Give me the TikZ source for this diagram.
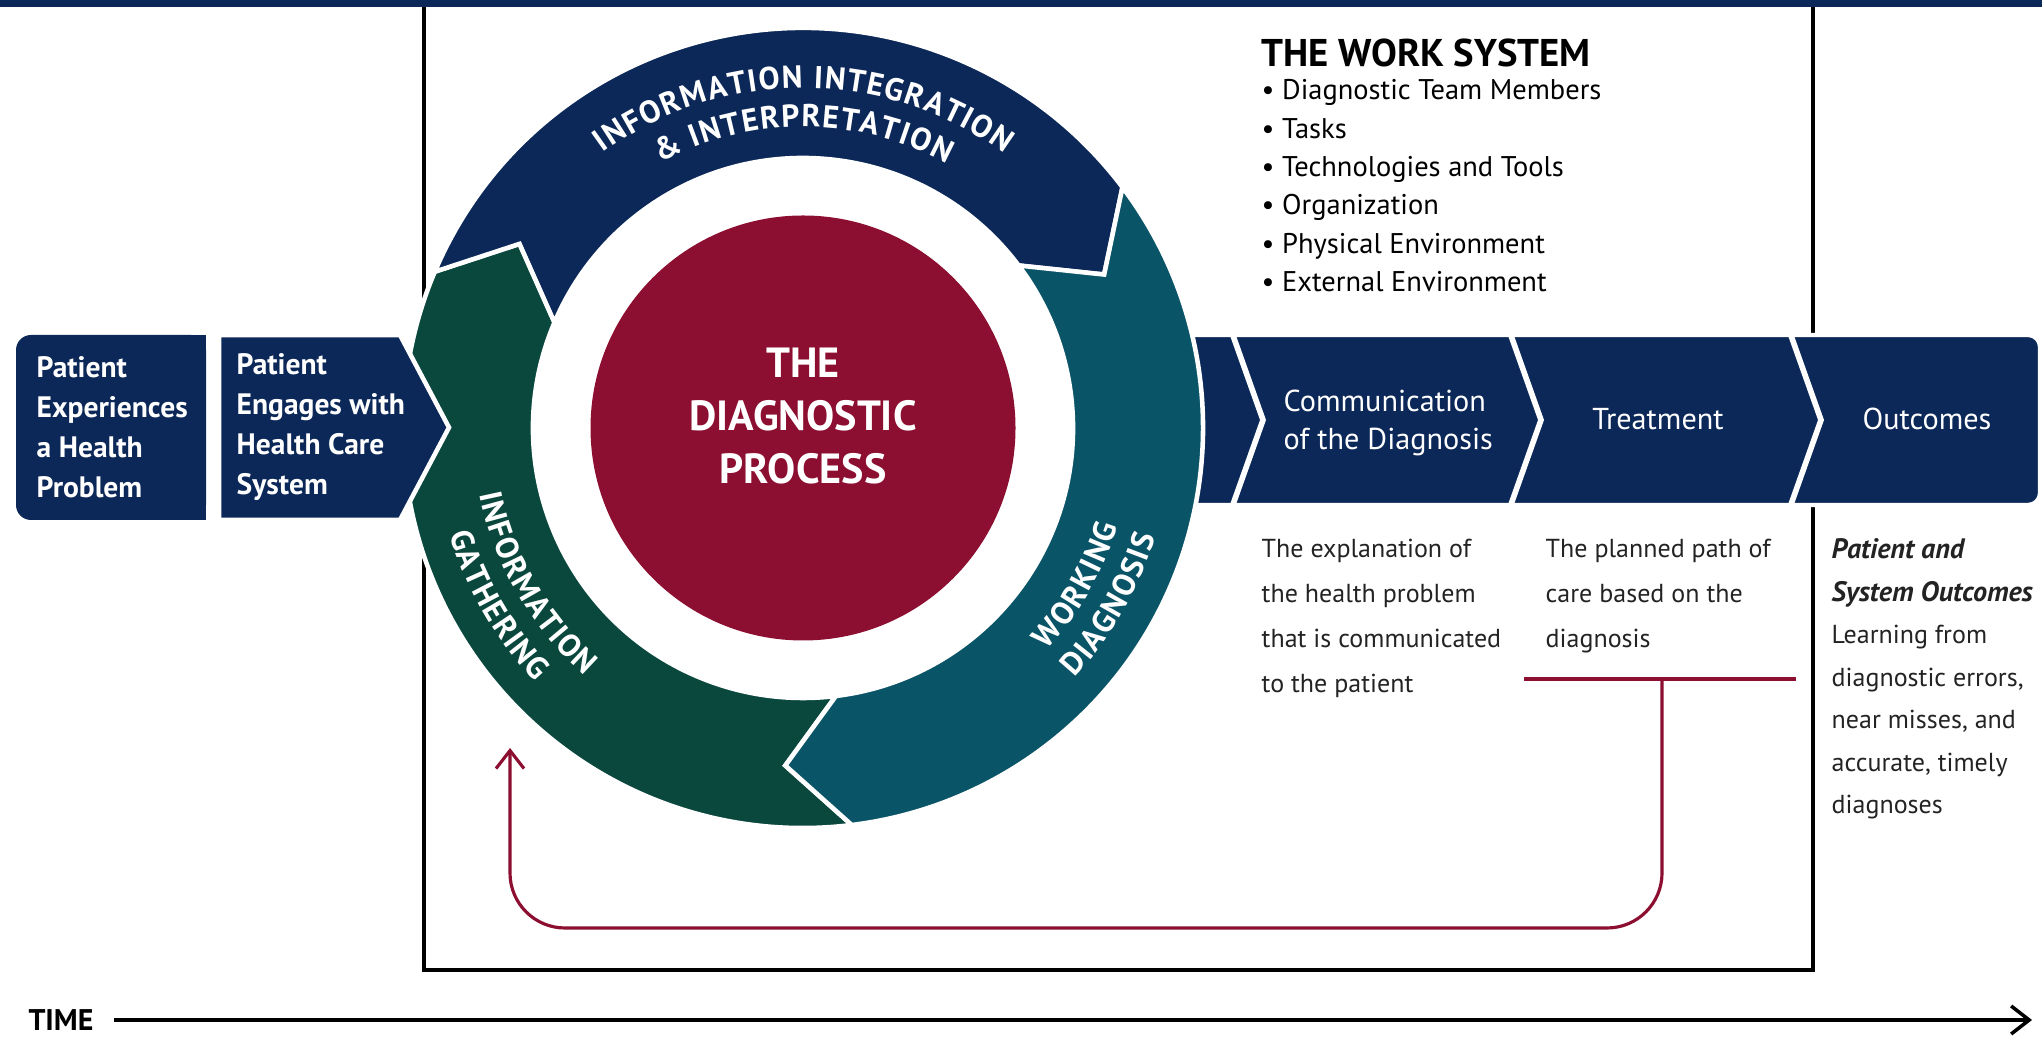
\documentclass[tikz,border=0pt]{standalone}
\usepackage{fontspec}
\setmainfont{PT Sans}
\usepackage{xcolor}
\usepackage{tikz}
\usetikzlibrary{positioning, arrows.meta, decorations.text}

\definecolor{navy}{RGB}{12,40,88}
\definecolor{pine}{RGB}{10,72,62}
\definecolor{petrol}{RGB}{10,84,104}
\definecolor{crimson}{RGB}{140,14,48}
\definecolor{ink}{RGB}{35,35,35}

\newcommand{\ringfont}{\fontsize{9}{9}\selectfont\bfseries\color{white}\kern0.4pt}
% one curved arrow of the cycle, clockwise from #2 to #3
\newcommand{\arcarrow}[3]{%
  \filldraw[#1, ring] (#2:4.0) arc[start angle=#2, end angle=#3, radius=4.0]
    -- ({#3-10}:3.38) -- (#3:2.70) arc[start angle=#3, end angle=#2, radius=2.70]
    -- ({#2-10}:3.38) -- cycle;}

\begin{document}
\begin{tikzpicture}[
    boxtext/.style={text=white, font=\bfseries\fontsize{8.4}{11.4}\selectfont, align=left, inner sep=0pt},
    stage/.style={text=white, font=\fontsize{8.6}{10.8}\selectfont, align=left, inner sep=0pt},
    note/.style={text=ink, font=\fontsize{7.4}{12.8}\selectfont, align=left, inner sep=0pt, anchor=north west},
    ring/.style={draw=white, line width=1.3pt},
    feedback/.style={crimson, line width=0.9pt},
    barb/.style={-{Straight Barb[length=1.8mm, width=2.8mm]}}
  ]
  \useasboundingbox (0,0) rectangle (20.42,10.40);

  % work system frame
  \draw[line width=1pt] (4.24,0.70) rectangle (18.13,10.40);
  \fill[navy] (0,10.33) rectangle (20.42,10.40);

  % after the diagnosis
  \filldraw[navy, draw=white, line width=1.2pt, rounded corners=1.2mm] (11.5,5.35) rectangle (20.40,7.05);
  \foreach \x in {12.31,15.09,17.89}
    \draw[white, line width=1.6pt] (\x,7.10) -- (\x+0.32,6.20) -- (\x,5.30);
  \node[stage, anchor=west] (comm) at (12.83,6.17) {Communication\\of the Diagnosis};
  \node[stage] (treat) at (16.58,6.21) {Treatment};
  \node[stage] (outcome) at (19.27,6.21) {Outcomes};

  % the cycle
  \coordinate (hub) at (8.03,6.12);
  \begin{scope}[shift={(hub)}]
    \arcarrow{pine}{-83}{-203}
    \arcarrow{navy}{157}{37}
    \arcarrow{petrol}{37}{-83}
    \path[decorate, decoration={text along path, text align=center,
        text={|\ringfont|INFORMATION INTEGRATION}}]
      (150:3.40) arc[start angle=150, end angle=30, radius=3.40];
    \path[decorate, decoration={text along path, text align=center,
        text={|\ringfont|{\&} INTERPRETATION}}]
      (150:3.01) arc[start angle=150, end angle=30, radius=3.01];
    \path[decorate, decoration={text along path, text align=center,
        text={|\ringfont|INFORMATION}}]
      (170:3.30) arc[start angle=170, end angle=250, radius=3.30];
    \path[decorate, decoration={text along path, text align=center,
        text={|\ringfont|GATHERING}}]
      (170:3.69) arc[start angle=170, end angle=250, radius=3.69];
    \path[decorate, decoration={text along path, text align=center,
        text={|\ringfont|WORKING}}]
      (-70:3.30) arc[start angle=-70, end angle=10, radius=3.30];
    \path[decorate, decoration={text along path, text align=center,
        text={|\ringfont|DIAGNOSIS}}]
      (-70:3.69) arc[start angle=-70, end angle=10, radius=3.69];
  \end{scope}
  \node[circle, fill=crimson, minimum size=4.25cm, inner sep=0pt] (core) at (hub) {};
  \node[text=white, font=\bfseries\fontsize{12}{15}\selectfont, align=center]
    at ([yshift=1.2mm]core.center) {THE\\DIAGNOSTIC\\PROCESS};

  % patient side
  \fill[navy, rounded corners=1.5mm] (0.16,5.20) rectangle (2.06,7.05);
  \fill[navy] (1.90,5.20) rectangle (2.06,7.05);
  \filldraw[navy, draw=white, line width=1.3pt]
    (2.19,5.20) -- (4.00,5.20) -- (4.49,6.125) -- (4.00,7.05) -- (2.19,7.05) -- cycle;
  \node[boxtext, anchor=west] (experience) at (0.36,6.13) {Patient\\Experiences\\a Health\\Problem};
  \node[boxtext, anchor=west] (engage) at (2.36,6.13) {Patient\\Engages with\\Health Care\\System};

  % work system
  \node[anchor=west, inner sep=0pt, font=\bfseries\fontsize{11}{12}\selectfont] (wshead) at (12.61,9.87) {THE WORK SYSTEM};
  \node[anchor=north west, inner sep=0pt, align=left, font=\fontsize{8.1}{10.9}\selectfont] (wslist) at (12.61,9.61)
    {\textbullet\ Diagnostic Team Members\\\textbullet\ Tasks\\\textbullet\ Technologies and Tools\\
     \textbullet\ Organization\\\textbullet\ Physical Environment\\\textbullet\ External Environment};

  \node[note] (explain) at (12.61,5.02) {The explanation of\\the health problem\\that is communicated\\to the patient};
  \node[note] (plan) at (15.45,5.02) {The planned path of\\care based on the\\diagnosis};
  \node[note, font=\fontsize{7.4}{12.1}\selectfont] (learn) at (18.31,5.02)
    {{\fontsize{8}{12.1}\selectfont\bfseries\itshape Patient and}\\{\fontsize{8}{12.1}\selectfont\bfseries\itshape System Outcomes}\\
     Learning from\\diagnostic errors,\\near misses, and\\accurate, timely\\diagnoses};

  % back to information gathering
  \coordinate (barL) at (15.24,3.61);
  \coordinate (barR) at (17.96,3.61);
  \coordinate (bar) at (16.62,3.61);
  \coordinate (back) at (5.10,2.92);
  \draw[feedback] (barL) -- (barR);
  \draw[feedback, barb, rounded corners=5.5mm] (bar) -- ++(0,-2.49) -| (back);

  % time axis
  \node[inner sep=0pt, font=\bfseries\fontsize{8.5}{10}\selectfont] (time) at (0.61,0.20) {TIME};
  \coordinate (later) at (20.32,0.20);
  \draw[line width=1pt, barb] ([xshift=2mm]time.east) -- (later);
\end{tikzpicture}
\end{document}
